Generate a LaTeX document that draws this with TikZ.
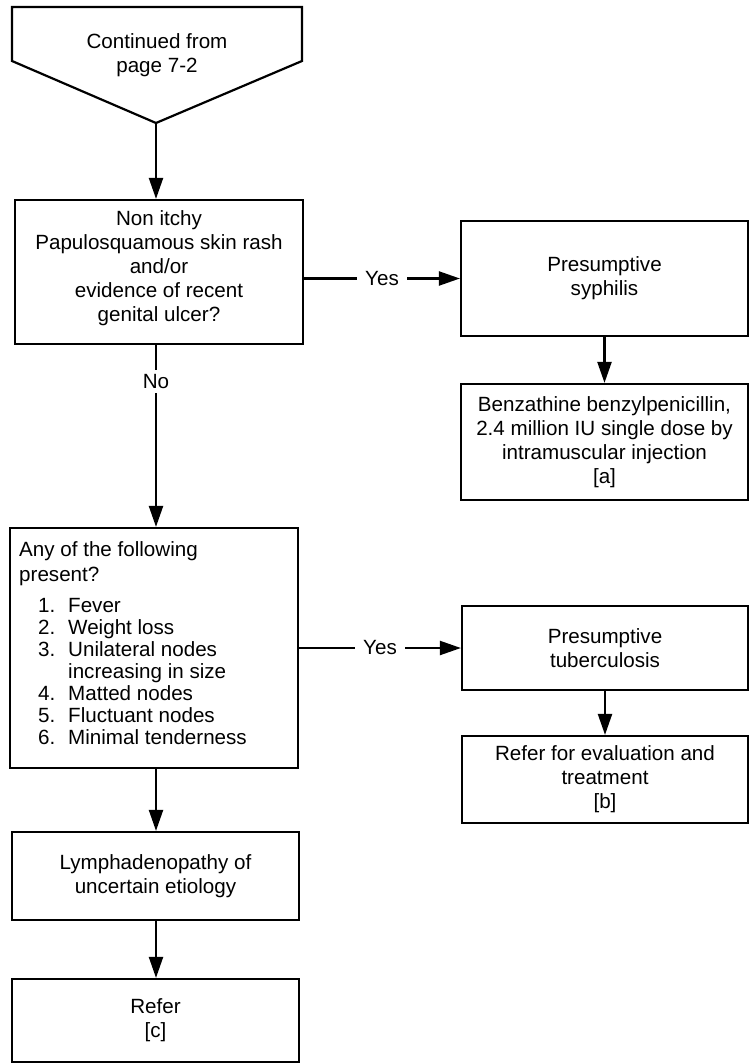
\documentclass[tikz,border=0pt]{standalone}
\usepackage{fontspec}
\setmainfont{Liberation Sans}
\usetikzlibrary{arrows.meta}
\begin{document}
\begin{tikzpicture}[x=1pt,y=-1pt,
  every node/.style={font=\fontsize{20.6}{24}\selectfont},
  box/.style={draw, line width=2.2pt, rectangle, inner sep=0pt, align=center},
  txt/.style={inner sep=0pt, align=center},
  arr/.style={line width=2.2pt, -{Triangle[length=21pt,width=14pt]}},
  lab/.style={fill=white, inner xsep=8pt, inner ysep=4pt}]
\useasboundingbox (0,0) rectangle (749,1064);

% off-page connector
\draw[line width=2.2pt, line join=miter] (12,7) -- (302,7) -- (302,61) -- (156,123) -- (12,61) -- cycle;
\coordinate (tip) at (156,123);
\node[txt] (pt) at (157,55.5) {Continued from\\page 7-2};

% boxes
\node[box, minimum width=288pt, minimum height=144pt] (b1) at (159,272) {};
\node[txt] (b1t) at (159,268) {Non itchy\\Papulosquamous skin rash\\and/or\\evidence of recent\\genital ulcer?};

\node[box, minimum width=287pt, minimum height=115pt] (syph) at (604.5,278.5) {Presumptive\\syphilis};
\node[box, minimum width=287pt, minimum height=116pt] (benz) at (604.5,442) {Benzathine benzylpenicillin,\\2.4 million IU single dose by\\intramuscular injection\\{[a]}};

\node[box, minimum width=288pt, minimum height=240pt] (b3) at (154,648) {};
\node[anchor=north west, inner sep=0pt, align=left, font=\fontsize{20.6}{22}\selectfont] (b3t) at (19,541)
 {Any of the following\\[3pt]present?\\[9pt]
  \hspace*{19pt}\makebox[30pt][l]{1.}Fever\\
  \hspace*{19pt}\makebox[30pt][l]{2.}Weight loss\\
  \hspace*{19pt}\makebox[30pt][l]{3.}Unilateral nodes\\
  \hspace*{49pt}increasing in size\\
  \hspace*{19pt}\makebox[30pt][l]{4.}Matted nodes\\
  \hspace*{19pt}\makebox[30pt][l]{5.}Fluctuant nodes\\
  \hspace*{19pt}\makebox[30pt][l]{6.}Minimal tenderness};

\node[box, minimum width=286pt, minimum height=84pt] (tb) at (605,648) {Presumptive\\tuberculosis};
\node[box, minimum width=286pt, minimum height=87pt] (referb) at (605,779.5) {Refer for evaluation and\\treatment\\{[b]}};

\node[box, minimum width=287pt, minimum height=88pt] (lymph) at (155.5,876) {Lymphadenopathy of\\uncertain etiology};
\node[box, minimum width=287pt, minimum height=83pt] (referc) at (155.5,1020.5) {Refer\\{[c]}};

% connectors
\draw[arr] (tip) -- (tip |- b1.north);
\draw[arr] (b1.east |- syph.west) -- node[lab] (y1) {Yes} (syph.west);
\draw[arr] (syph.south) -- (benz.north);
\draw[arr] (tip |- b1.south) -- node[lab, pos=0.2] (no) {No} (tip |- b3.north);
\draw[arr] (b3.east |- tb.west) -- node[lab] (y2) {Yes} (tb.west);
\draw[arr] (tb.south) -- (referb.north);
\draw[arr] (tip |- b3.south) -- (tip |- lymph.north);
\draw[arr] (tip |- lymph.south) -- (tip |- referc.north);
\end{tikzpicture}
\end{document}
